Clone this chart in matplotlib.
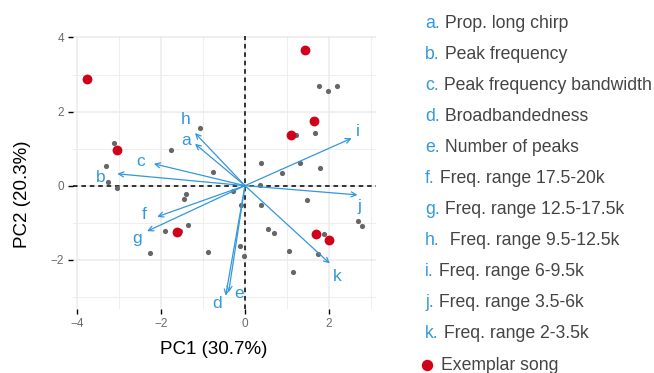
import matplotlib
matplotlib.use("Agg")
import matplotlib.pyplot as plt
import numpy as np

plt.rcParams['font.family'] = ['Liberation Sans', 'DejaVu Sans']

# scores of all songs
pc1 = [-3.11, -3.31, -3.25, -3.04, -1.75, -1.06, -0.75, -1.41, -1.44, -0.28,
       0.37, 1.77, 1.97, 2.20, 1.21, 1.66, 0.89, 1.32, 1.79, 0.36,
       1.48, -0.10, 0.37, -1.36, -1.90, -1.55, -2.26, -0.89, -0.13, -0.02,
       0.56, 0.68, 1.87, 1.04, 1.75, 1.14, 2.69, 2.79]
pc2 = [1.15, 0.53, 0.09, -0.05, 0.97, 1.56, 0.38, -0.22, -0.35, -0.14,
       0.60, 2.69, 2.56, 2.69, 1.36, 1.42, 0.33, 0.60, 0.48, 0.03,
       -0.38, -0.51, -0.51, -1.06, -1.22, -1.22, -1.82, -1.79, -1.64, -1.89,
       -1.16, -1.29, -1.30, -1.76, -1.85, -2.32, -0.96, -1.09]

# exemplar songs
ex_pc1 = [-3.77, -3.05, 1.44, 1.65, 1.10, -1.61, 1.68, 2.01]
ex_pc2 = [2.88, 0.95, 3.66, 1.74, 1.36, -1.26, -1.31, -1.48]

# loadings
letters = ['a', 'b', 'c', 'd', 'e', 'f', 'g', 'h', 'i', 'j', 'k']
names = ['Prop. long chirp', 'Peak frequency', 'Peak frequency bandwidth',
         'Broadbandedness', 'Number of peaks', 'Freq. range 17.5-20k',
         'Freq. range 12.5-17.5k', ' Freq. range 9.5-12.5k', 'Freq. range 6-9.5k',
         'Freq. range 3.5-6k', 'Freq. range 2-3.5k']
load_x = [-1.19, -3.04, -2.17, -0.46, -0.39, -2.09, -2.33, -1.19, 2.54, 2.68, 2.02]
load_y = [1.13, 0.32, 0.59, -2.97, -2.88, -0.84, -1.23, 1.42, 1.28, -0.25, -2.10]
lab_x = [-1.40, -3.43, -2.48, -0.67, -0.13, -2.41, -2.58, -1.41, 2.68, 2.72, 2.20]
lab_y = [1.22, 0.23, 0.65, -3.18, -2.91, -0.79, -1.42, 1.78, 1.46, -0.55, -2.46]

blue = '#3498db'
red = '#d0021b'

W, H = 654, 373
fig = plt.figure(figsize=(W / 100, H / 100), dpi=100)
ax = fig.add_axes([73 / W, 1 - 309 / H, (376 - 73) / W, (309 - 36) / H])

ax.set_xlim(-4.095, 3.12)
ax.set_ylim(-3.33, 4.04)
ax.set_xticks([-4, -2, 0, 2])
ax.set_yticks([-2, 0, 2, 4])
ax.set_xticks([-3, -1, 1, 3], minor=True)
ax.set_yticks([-3, -1, 1, 3], minor=True)
ax.grid(which='major', color='#ebebeb', lw=1.1)
ax.grid(which='minor', color='#ebebeb', lw=0.6)
ax.set_axisbelow(True)
for s in ax.spines.values():
    s.set_visible(False)
ax.tick_params(which='major', length=3.5, width=1, color='black',
               labelsize=8.5, labelcolor='#6b6b6b', pad=3)
ax.tick_params(which='minor', length=0)

ax.axhline(0, color='black', lw=1.1, ls=(0, (3, 2.5)), zorder=1)
ax.axvline(0, color='black', lw=1.1, ls=(0, (3, 2.5)), zorder=1)

ax.scatter(pc1, pc2, s=14, color='#666666', lw=0, zorder=3)
ax.scatter(ex_pc1, ex_pc2, s=50, color=red, lw=0, zorder=4)

for i in range(len(letters)):
    ax.annotate('', xy=(load_x[i], load_y[i]), xytext=(0, 0),
                arrowprops=dict(arrowstyle='->', color=blue, lw=0.9,
                                shrinkA=0, shrinkB=0, mutation_scale=9),
                zorder=5)
    ax.text(lab_x[i], lab_y[i], letters[i], color=blue, fontsize=12.5,
            ha='center', va='center', zorder=6)

ax.set_xlabel('PC1 (30.7%)', fontsize=13.5, color='black')
ax.set_ylabel('PC2 (20.3%)', fontsize=13.5, color='black')
ax.xaxis.set_label_coords((214 - 73) / 303, -0.117)
ax.yaxis.set_label_coords((31 - 73) / 303, 0.421)

# legend
renderer = fig.canvas.get_renderer()
row0, step = 23, 31.1
for i in range(len(letters)):
    yy = 1 - (row0 + i * step) / H
    t = fig.text(425 / W, yy, letters[i] + '.', color=blue, fontsize=12.7,
                 ha='left', va='center')
    bb = t.get_window_extent(renderer)
    fig.text(bb.x1 / W, yy, ' ' + names[i], color='#444444', fontsize=12.7,
             ha='left', va='center')
yy = 1 - (row0 + len(letters) * step) / H
fig.lines.append(plt.Line2D([426.7 / W], [yy], marker='o', ms=7.2, color=red,
                            transform=fig.transFigure, figure=fig))
fig.text(441 / W, yy, 'Exemplar song', color='#444444', fontsize=12.7,
         ha='left', va='center')

fig.savefig('out.png', dpi=100)
